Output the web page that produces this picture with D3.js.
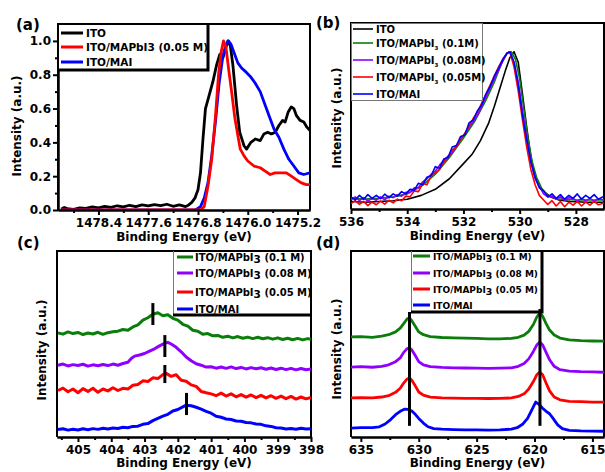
<!DOCTYPE html>
<html>
<head>
<meta charset="utf-8">
<script src="https://cdn.jsdelivr.net/npm/d3@7"></script>
<style>
  body { margin: 0; background: #fff; }
  text { font-family: "DejaVu Sans", Verdana, sans-serif; font-weight: bold; fill: #000; }
</style>
</head>
<body>
<script>
// ---------- panel (a) : normalized spectra near 1476 eV ----------
var aIto = [[1479.0,0.005],[1478.95,0.015],[1478.9,0.008],[1478.8,0.004],[1478.7,0.012],[1478.6,0.010],
  [1478.5,0.018],[1478.4,0.012],[1478.3,0.022],[1478.2,0.015],[1478.1,0.025],[1478.0,0.018],[1477.9,0.028],
  [1477.8,0.020],[1477.7,0.030],[1477.6,0.024],[1477.5,0.032],[1477.4,0.026],[1477.3,0.034],[1477.2,0.022],
  [1477.1,0.030],[1477.0,0.020],[1476.95,0.030],[1476.9,0.045],[1476.85,0.07],[1476.8,0.12],[1476.76,0.22],
  [1476.72,0.42],[1476.68,0.60],[1476.62,0.68],[1476.56,0.76],[1476.5,0.86],[1476.45,0.92],[1476.4,0.90],
  [1476.36,0.95],[1476.32,1.0],[1476.28,0.97],[1476.24,0.86],[1476.18,0.62],[1476.13,0.46],[1476.06,0.38],
  [1476.02,0.36],[1475.95,0.40],[1475.88,0.42],[1475.8,0.41],[1475.74,0.45],[1475.68,0.46],[1475.62,0.45],
  [1475.56,0.46],[1475.5,0.50],[1475.44,0.53],[1475.4,0.52],[1475.35,0.58],[1475.3,0.61],[1475.26,0.60],
  [1475.22,0.56],[1475.16,0.53],[1475.1,0.52],[1475.05,0.49],[1475.0,0.47]];
var aMapbi = [[1479.0,0],[1476.76,0],[1476.7,0.02],[1476.64,0.14],[1476.58,0.30],[1476.52,0.55],
  [1476.47,0.80],[1476.43,0.93],[1476.39,1.0],[1476.35,0.96],[1476.31,0.84],[1476.26,0.70],[1476.21,0.55],
  [1476.16,0.44],[1476.12,0.36],[1476.06,0.32],[1476.0,0.29],[1475.9,0.26],[1475.8,0.25],[1475.72,0.23],
  [1475.64,0.21],[1475.56,0.22],[1475.46,0.22],[1475.38,0.22],[1475.3,0.20],[1475.22,0.18],[1475.14,0.16],
  [1475.06,0.15],[1475.0,0.15]];
var aMai = [[1479.0,0],[1476.84,0],[1476.76,0.02],[1476.7,0.07],[1476.64,0.16],[1476.58,0.32],[1476.52,0.52],
  [1476.46,0.75],[1476.4,0.91],[1476.35,0.98],[1476.31,1.0],[1476.27,0.98],[1476.22,0.93],[1476.16,0.87],
  [1476.1,0.84],[1476.04,0.82],[1475.96,0.79],[1475.88,0.75],[1475.8,0.70],[1475.72,0.62],[1475.64,0.54],
  [1475.58,0.48],[1475.5,0.43],[1475.42,0.36],[1475.34,0.30],[1475.26,0.26],[1475.18,0.22],[1475.1,0.21],
  [1475.0,0.22]];
var aNames = ["ITO", "ITO/MAPbI3 (0.05 M)", "ITO/MAI"];
var aXMajor = [1478.4, 1477.6, 1476.8, 1476.0, 1475.2];
var aXMinor = [1478.8, 1478.0, 1477.2, 1476.4, 1475.6];
var aYMajor = [0, 0.2, 0.4, 0.6, 0.8, 1.0];
var aYMinor = [0.1, 0.3, 0.5, 0.7, 0.9];

// ---------- panel (b) : O 1s ----------
var bIto = [[536,0.01],[535.5,0.005],[535,0.01],[534.5,0.015],[534,0.025],[533.5,0.05],[533,0.09],
  [532.5,0.16],[532,0.26],[531.7,0.32],[531.4,0.41],[531.1,0.53],[530.9,0.64],[530.7,0.76],[530.5,0.88],
  [530.35,0.96],[530.2,1.0],[530.05,0.93],[529.9,0.72],[529.75,0.5],[529.6,0.3],[529.45,0.17],[529.3,0.11],
  [529.1,0.07],[528.9,0.04],[528.6,0.02],[528.2,0.01],[527.6,0.005],[527,0.005]];
var b01 = [[536,0.03],[535.5,0.025],[535,0.03],[534.5,0.04],[534,0.06],[533.5,0.11],[533,0.19],[532.5,0.30],
  [532,0.43],[531.6,0.54],[531.2,0.68],[530.9,0.80],[530.65,0.92],[530.45,0.99],[530.3,1.0],[530.15,0.95],
  [530,0.82],[529.85,0.62],[529.7,0.42],[529.55,0.27],[529.4,0.17],[529.2,0.09],[529,0.05],[528.6,0.025],
  [528,0.02],[527.5,0.02],[527,0.02]];
var b008 = [[536,0.02],[535.85,0.04],[535.7,0.015],[535.55,0.035],[535.4,0.012],[535.25,0.03],[535.1,0.018],
  [534.95,0.04],[534.8,0.02],[534.65,0.045],[534.5,0.035],[534.35,0.055],[534.2,0.045],[534.05,0.07],
  [533.9,0.07],[533.75,0.1],[533.6,0.1],[533.45,0.14],[533.3,0.16],[533.15,0.19],[533,0.21],[532.85,0.25],
  [532.7,0.28],[532.55,0.31],[532.4,0.33],[532.25,0.38],[532.1,0.42],[531.95,0.46],[531.8,0.50],[531.65,0.54],
  [531.5,0.58],[531.35,0.64],[531.2,0.70],[531.05,0.76],[530.9,0.82],[530.75,0.88],[530.6,0.94],[530.45,0.99],
  [530.35,1.0],[530.2,0.93],[530.05,0.8],[529.9,0.61],[529.75,0.43],[529.6,0.27],[529.45,0.16],[529.3,0.11],
  [529.15,0.06],[529,0.04],[528.85,0.045],[528.7,0.025],[528.55,0.04],[528.4,0.018],[528.25,0.035],[528.1,0.03],
  [527.95,0.012],[527.8,0.03],[527.65,0.015],[527.5,0.03],[527.35,0.012],[527.2,0.028],[527,0.02]];
var b005 = [[536,-0.005],[535.85,0.015],[535.7,-0.01],[535.55,0.01],[535.4,-0.018],[535.25,0.005],
  [535.1,-0.012],[534.95,0.012],[534.8,-0.008],[534.65,0.018],[534.5,0],[534.35,0.025],[534.2,0.015],
  [534.05,0.045],[533.9,0.04],[533.75,0.08],[533.6,0.075],[533.45,0.13],[533.3,0.12],[533.15,0.18],[533,0.2],
  [532.85,0.22],[532.7,0.27],[532.55,0.3],[532.4,0.35],[532.25,0.37],[532.1,0.42],[531.95,0.46],[531.8,0.51],
  [531.65,0.56],[531.5,0.6],[531.35,0.66],[531.2,0.72],[531.05,0.78],[530.9,0.84],[530.75,0.9],[530.6,0.95],
  [530.45,0.99],[530.35,1.0],[530.2,0.9],[530.05,0.74],[529.9,0.55],[529.75,0.37],[529.6,0.22],[529.45,0.12],
  [529.3,0.05],[529.15,0.02],[529,-0.01],[528.85,0.015],[528.7,-0.02],[528.55,0.01],[528.4,-0.025],
  [528.25,0.005],[528.1,-0.015],[527.95,0.01],[527.8,-0.02],[527.65,0.005],[527.5,-0.015],[527.35,0.01],
  [527.2,-0.012],[527,0]];
var bMai = [[536,0.04],[535.85,0.02],[535.7,0.05],[535.55,0.025],[535.4,0.055],[535.25,0.03],[535.1,0.05],
  [534.95,0.028],[534.8,0.058],[534.65,0.035],[534.5,0.06],[534.35,0.045],[534.2,0.075],[534.05,0.06],
  [533.9,0.09],[533.75,0.085],[533.6,0.13],[533.45,0.12],[533.3,0.17],[533.15,0.18],[533,0.24],[532.85,0.23],
  [532.7,0.29],[532.55,0.3],[532.4,0.37],[532.25,0.38],[532.1,0.44],[531.95,0.45],[531.8,0.53],[531.65,0.55],
  [531.5,0.61],[531.35,0.65],[531.2,0.72],[531.05,0.77],[530.9,0.84],[530.75,0.89],[530.6,0.95],[530.45,0.99],
  [530.35,1.0],[530.2,0.93],[530.05,0.78],[529.9,0.58],[529.75,0.42],[529.6,0.27],[529.45,0.17],[529.3,0.1],
  [529.15,0.08],[529,0.04],[528.85,0.06],[528.7,0.03],[528.55,0.055],[528.4,0.025],[528.25,0.05],[528.1,0.03],
  [527.95,0.06],[527.8,0.025],[527.65,0.05],[527.5,0.03],[527.35,0.055],[527.2,0.025],[527,0.045]];
var bXMajor = [536, 534, 532, 530, 528];
var bXMinor = [535, 533, 531, 529];

// ---------- panel (c) : N 1s, stacked ----------
var c01 = [[405.6,.560],[405.45,.553],[405.3,.565],[405.15,.556],[405.0,.562],[404.85,.551],[404.7,.559],
  [404.55,.554],[404.4,.563],[404.25,.552],[404.1,.561],[403.95,.566],[403.8,.569],[403.65,.578],[403.5,.574],
  [403.35,.592],[403.2,.603],[403.05,.628],[402.9,.641],[402.75,.66],[402.6,.668],[402.45,.652],[402.3,.657],
  [402.15,.638],[402.0,.628],[401.85,.606],[401.7,.596],[401.55,.574],[401.4,.569],[401.25,.552],[401.1,.556],
  [400.95,.544],[400.8,.546],[400.65,.536],[400.5,.542],[400.35,.533],[400.2,.54],[400.05,.531],[399.9,.537],
  [399.75,.529],[399.6,.536],[399.45,.528],[399.3,.534],[399.15,.526],[399.0,.533],[398.85,.524],[398.7,.531],
  [398.55,.523],[398.4,.53],[398.25,.522],[398.1,.529],[398.0,.526]];
var c008 = [[405.6,.386],[405.45,.392],[405.3,.382],[405.15,.389],[405.0,.384],[404.85,.391],[404.7,.381],
  [404.55,.388],[404.4,.383],[404.25,.39],[404.1,.384],[403.95,.392],[403.8,.386],[403.65,.395],[403.5,.402],
  [403.4,.422],[403.3,.435],[403.15,.441],[403.0,.449],[402.85,.462],[402.7,.474],[402.55,.49],[402.4,.503],
  [402.3,.509],[402.2,.5],[402.05,.482],[401.9,.458],[401.75,.43],[401.6,.41],[401.45,.394],[401.3,.386],
  [401.15,.376],[401.0,.378],[400.85,.37],[400.7,.376],[400.55,.369],[400.4,.377],[400.25,.368],[400.1,.374],
  [399.95,.366],[399.8,.373],[399.65,.367],[399.5,.372],[399.35,.364],[399.2,.371],[399.05,.363],[398.9,.37],
  [398.75,.362],[398.6,.369],[398.45,.361],[398.3,.368],[398.15,.362],[398.0,.366]];
var c005 = [[405.6,.25],[405.45,.263],[405.3,.243],[405.15,.258],[405.0,.238],[404.85,.26],[404.7,.245],
  [404.55,.262],[404.4,.24],[404.25,.258],[404.1,.248],[403.95,.265],[403.8,.25],[403.65,.262],[403.5,.258],
  [403.35,.278],[403.2,.282],[403.05,.302],[402.9,.298],[402.75,.318],[402.6,.314],[402.45,.335],[402.35,.342],
  [402.2,.326],[402.05,.335],[401.9,.305],[401.75,.3],[401.6,.28],[401.45,.272],[401.3,.245],[401.15,.238],
  [401.0,.232],[400.85,.222],[400.7,.236],[400.55,.22],[400.4,.232],[400.25,.216],[400.1,.228],[399.95,.214],
  [399.8,.226],[399.65,.212],[399.5,.224],[399.35,.21],[399.2,.222],[399.05,.208],[398.9,.22],[398.75,.206],
  [398.6,.218],[398.45,.204],[398.3,.215],[398.15,.205],[398.0,.212]];
var cMai = [[405.6,.040],[405.45,.044],[405.3,.037],[405.15,.042],[405.0,.038],[404.85,.044],[404.7,.039],
  [404.55,.045],[404.4,.041],[404.25,.047],[404.1,.043],[403.95,.048],[403.8,.046],[403.65,.052],[403.5,.05],
  [403.35,.057],[403.2,.058],[403.05,.068],[402.9,.072],[402.75,.088],[402.6,.1],[402.45,.112],[402.3,.122],
  [402.15,.14],[402.0,.148],[401.85,.162],[401.75,.171],[401.6,.168],[401.45,.16],[401.3,.15],[401.15,.138],
  [401.0,.128],[400.85,.112],[400.7,.106],[400.55,.097],[400.4,.094],[400.25,.086],[400.1,.085],[399.95,.078],
  [399.8,.076],[399.65,.07],[399.5,.068],[399.35,.06],[399.2,.057],[399.05,.05],[398.9,.048],[398.75,.043],
  [398.6,.046],[398.45,.042],[398.3,.047],[398.15,.043],[398.0,.045]];
var cMarkE = [402.75, 402.39, 402.39, 401.74];
var cMarkLo = [0.602, 0.43, 0.29, 0.118];
var cMarkHi = [0.72, 0.548, 0.387, 0.237];
var cXMajor = [405, 404, 403, 402, 401, 400, 399, 398];
var cXMinor = [405.5, 404.5, 403.5, 402.5, 401.5, 400.5, 399.5, 398.5];

// ---------- panel (d) : I 3d, stacked ----------
var d01 = [[635.85,0.538],[635,0.54],[634,0.536],[633.2,0.542],[632.6,0.55],[632,0.565],[631.6,0.585],
  [631.3,0.61],[631,0.635],[630.8,0.64],[630.6,0.625],[630.3,0.595],[630,0.565],[629.6,0.55],[629,0.54],
  [628,0.535],[627,0.533],[626,0.532],[625,0.53],[624,0.528],[623,0.528],[622,0.53],[621.4,0.536],[620.9,0.548],
  [620.5,0.568],[620.1,0.605],[619.8,0.645],[619.55,0.667],[619.3,0.65],[619,0.61],[618.7,0.575],[618.3,0.548],
  [617.8,0.532],[617,0.522],[616,0.518],[615,0.516],[614,0.515]];
var d008 = [[635.85,0.376],[635,0.378],[634,0.375],[633.2,0.38],[632.6,0.388],[632,0.405],[631.6,0.425],
  [631.3,0.455],[631,0.475],[630.8,0.478],[630.6,0.468],[630.3,0.438],[630,0.405],[629.6,0.388],[629,0.378],
  [628,0.374],[627,0.372],[626,0.371],[625,0.37],[624,0.369],[623,0.37],[622,0.372],[621.4,0.38],[620.9,0.395],
  [620.5,0.42],[620.1,0.46],[619.8,0.495],[619.55,0.511],[619.3,0.495],[619,0.455],[618.7,0.415],[618.3,0.38],
  [617.8,0.362],[617,0.354],[616,0.351],[615,0.35],[614,0.348]];
var d005 = [[635.85,0.21],[635,0.212],[634,0.21],[633.2,0.215],[632.6,0.222],[632,0.24],[631.6,0.262],
  [631.3,0.29],[631,0.312],[630.8,0.317],[630.6,0.305],[630.3,0.275],[630,0.242],[629.6,0.225],[629,0.214],
  [628,0.21],[627,0.209],[626,0.208],[625,0.208],[624,0.207],[623,0.208],[622,0.21],[621.4,0.218],[620.9,0.232],
  [620.5,0.258],[620.1,0.298],[619.8,0.335],[619.55,0.349],[619.3,0.335],[619,0.29],[618.7,0.248],[618.3,0.215],
  [617.8,0.2],[617,0.192],[616,0.19],[615,0.188],[614,0.187]];
var dMai = [[635.85,0.048],[635,0.05],[634,0.05],[633.4,0.055],[632.9,0.07],[632.4,0.095],[632,0.12],
  [631.6,0.138],[631.2,0.15],[630.9,0.148],[630.6,0.14],[630.3,0.122],[630,0.1],[629.6,0.075],[629.2,0.055],
  [628.7,0.045],[628,0.042],[627,0.04],[626,0.038],[625,0.038],[624,0.037],[623,0.038],[622,0.042],[621.5,0.05],
  [621,0.07],[620.6,0.1],[620.2,0.15],[619.9,0.188],[619.6,0.175],[619.3,0.155],[619,0.138],[618.7,0.125],
  [618.4,0.1],[618,0.065],[617.6,0.045],[617,0.036],[616,0.033],[615,0.032],[614,0.031]];
var dMarkE = [630.8, 619.53];
var dMarkLo = [0.06, 0.06];
var dMarkHi = [0.672, 0.688];
var dXMajor = [635, 630, 625, 620, 615];
var dXMinor = [632.5, 627.5, 622.5, 617.5];

var stackNames = [["ITO/MAPbI", "3", " (0.1 M)"], ["ITO/MAPbI", "3", " (0.08 M)"],
                  ["ITO/MAPbI", "3", " (0.05 M)"], ["ITO/MAI", "", ""]];
var bNames = [["ITO", "", ""], ["ITO/MAPbI", "3", " (0.1M)"], ["ITO/MAPbI", "3", " (0.08M)"],
              ["ITO/MAPbI", "3", " (0.05M)"], ["ITO/MAI", "", ""]];

var BLACK = "#000", RED = "#ff0000", BLUE = "#0000ff", GREEN = "#0a7d0a", PURPLE = "#8f00ff";

var svg = d3.select("body").append("svg")
    .attr("width", 605)
    .attr("height", 472);
svg.append("rect").attr("width", 605).attr("height", 472).attr("fill", "#fff");

// scales
var xa = d3.scaleLinear().domain([1479.05, 1475.0]).range([58, 310]);
var ya = d3.scaleLinear().domain([0, 1.1]).range([210, 24]);
var xb = d3.scaleLinear().domain([536, 527]).range([351, 604]);
var yb = d3.scaleLinear().domain([-0.04, 1.19]).range([209, 23]);
var xc = d3.scaleLinear().domain([405.63, 398]).range([57, 311]);
var yc = d3.scaleLinear().domain([0, 1]).range([437, 251]);
var xd = d3.scaleLinear().domain([635.85, 614.0]).range([351, 604]);
var yd = d3.scaleLinear().domain([0, 1]).range([437, 251]);

function clip(id, xs, ys) {
  svg.append("clipPath").attr("id", id).append("rect")
    .attr("x", xs.range()[0]).attr("y", ys.range()[1])
    .attr("width", xs.range()[1] - xs.range()[0])
    .attr("height", ys.range()[0] - ys.range()[1]);
}
clip("ca", xa, ya); clip("cb", xb, yb); clip("cc", xc, yc); clip("cd", xd, yd);

function curve(data, xs, ys, color, w, cl) {
  var line = d3.line().x(function(d) { return xs(d[0]); }).y(function(d) { return ys(d[1]); });
  svg.append("path").datum(data)
    .attr("d", line)
    .attr("fill", "none")
    .attr("stroke", color)
    .attr("stroke-width", w)
    .attr("stroke-linejoin", "round")
    .attr("clip-path", "url(#" + cl + ")");
}

function styleAxis(g) {
  g.selectAll("path, line").attr("stroke", "#000").attr("stroke-width", 2);
  g.selectAll("text").attr("font-size", "12px").attr("fill", "#000")
    .attr("font-family", "DejaVu Sans, sans-serif").attr("font-weight", "bold");
}

function bottomAxis(xs, y, major, minor, fmt) {
  var g1 = svg.append("g").attr("transform", "translate(0," + y + ")")
    .call(d3.axisBottom(xs).tickValues(minor).tickSize(3).tickFormat("").tickSizeOuter(0));
  styleAxis(g1);
  var g2 = svg.append("g").attr("transform", "translate(0," + y + ")")
    .call(d3.axisBottom(xs).tickValues(major).tickSize(5).tickPadding(3).tickFormat(fmt).tickSizeOuter(0));
  styleAxis(g2);
}

function frame(xs, ys) {
  var l = xs.range()[0], r = xs.range()[1], t = ys.range()[1], b = ys.range()[0];
  svg.append("path").attr("d", "M" + l + "," + b + "V" + t + "H" + r + "V" + b)
    .attr("fill", "none").attr("stroke", "#000").attr("stroke-width", 2);
}

function xTitle(xs, y) {
  svg.append("text").attr("x", (xs.range()[0] + xs.range()[1]) / 2).attr("y", y)
    .attr("text-anchor", "middle").attr("font-size", "12px").text("Binding Energy (eV)");
}
function yTitle(x, y) {
  svg.append("text").attr("transform", "translate(" + x + "," + y + ") rotate(-90)")
    .attr("text-anchor", "middle").attr("font-size", "12px").text("Intensity (a.u.)");
}
function tag(x, y, s) {
  svg.append("text").attr("x", x).attr("y", y).attr("font-size", "15px").text(s);
}

function legendText(x, y, parts, size, subSmall) {
  var t = svg.append("text").attr("x", x).attr("y", y).attr("font-size", size + "px");
  t.append("tspan").text(parts[0]);
  if (parts[1]) {
    t.append("tspan").attr("dy", subSmall ? 3 : 2)
      .attr("font-size", (subSmall ? size * 0.55 : size * 1.05) + "px").text(parts[1]);
    t.append("tspan").attr("dy", subSmall ? -3 : -2).text(parts[2]);
  }
}

// ================= panel (a) =================
frame(xa, ya);
curve(aIto, xa, ya, BLACK, 2.8, "ca");
curve(aMai, xa, ya, BLUE, 2.8, "ca");
curve(aMapbi, xa, ya, RED, 2.8, "ca");
bottomAxis(xa, 210, aXMajor, aXMinor, d3.format(".1f"));
var gya = svg.append("g").attr("transform", "translate(58,0)")
  .call(d3.axisLeft(ya).tickValues(aYMinor).tickSize(3).tickFormat("").tickSizeOuter(0));
styleAxis(gya);
var gya2 = svg.append("g").attr("transform", "translate(58,0)")
  .call(d3.axisLeft(ya).tickValues(aYMajor).tickSize(5).tickPadding(2).tickFormat(d3.format(".1f")).tickSizeOuter(0));
styleAxis(gya2);
// legend (a)
svg.append("rect").attr("x", 59).attr("y", 25).attr("width", 148).attr("height", 45).attr("fill", "#fff");
svg.append("path").attr("d", "M58,70H208V24").attr("fill", "none").attr("stroke", "#000").attr("stroke-width", 3);
var aCols = [BLACK, RED, BLUE], aRows = [33, 47, 62];
aNames.forEach(function(n, i) {
  svg.append("line").attr("x1", 61).attr("x2", 83).attr("y1", aRows[i]).attr("y2", aRows[i])
    .attr("stroke", aCols[i]).attr("stroke-width", 3);
  svg.append("text").attr("x", 86).attr("y", aRows[i] + 4).attr("font-size", "10.5px").text(n);
});
xTitle(xa, 241);
yTitle(21, 126);
tag(16, 30, "(a)");

// ================= panel (b) =================
frame(xb, yb);
curve(bIto, xb, yb, BLACK, 1.6, "cb");
curve(b01, xb, yb, GREEN, 1.6, "cb");
curve(b008, xb, yb, PURPLE, 1.6, "cb");
curve(b005, xb, yb, RED, 1.6, "cb");
curve(bMai, xb, yb, BLUE, 1.6, "cb");
bottomAxis(xb, 209, bXMajor, bXMinor, d3.format("d"));
svg.append("rect").attr("x", 351.5).attr("y", 23.5).attr("width", 131).attr("height", 77)
  .attr("fill", "#fff").attr("stroke", "#777").attr("stroke-width", 1);
var bCols = [BLACK, GREEN, PURPLE, RED, BLUE], bRows = [29, 43, 60, 77, 94];
bNames.forEach(function(n, i) {
  svg.append("line").attr("x1", 353).attr("x2", 373).attr("y1", bRows[i]).attr("y2", bRows[i])
    .attr("stroke", bCols[i]).attr("stroke-width", 1.6);
  legendText(376, bRows[i] + 4, n, 10, true);
});
xTitle(xb, 240);
yTitle(341, 118);
tag(316, 28, "(b)");

// ================= panel (c) =================
frame(xc, yc);
curve(c01, xc, yc, GREEN, 3, "cc");
curve(c008, xc, yc, PURPLE, 3, "cc");
curve(c005, xc, yc, RED, 3, "cc");
curve(cMai, xc, yc, BLUE, 3, "cc");
cMarkE.forEach(function(e, i) {
  svg.append("line").attr("x1", xc(e)).attr("x2", xc(e)).attr("y1", yc(cMarkLo[i])).attr("y2", yc(cMarkHi[i]))
    .attr("stroke", "#000").attr("stroke-width", 3);
});
bottomAxis(xc, 437, cXMajor, cXMinor, d3.format("d"));
svg.append("rect").attr("x", 173).attr("y", 252).attr("width", 137).attr("height", 62).attr("fill", "#fff");
svg.append("line").attr("x1", 173.5).attr("x2", 173.5).attr("y1", 251).attr("y2", 315).attr("stroke", "#777");
svg.append("line").attr("x1", 173).attr("x2", 311).attr("y1", 315).attr("y2", 315).attr("stroke", "#000").attr("stroke-width", 3);
var sCols = [GREEN, PURPLE, RED, BLUE], cRows = [257, 273, 292, 309];
stackNames.forEach(function(n, i) {
  svg.append("line").attr("x1", 177).attr("x2", 193).attr("y1", cRows[i]).attr("y2", cRows[i])
    .attr("stroke", sCols[i]).attr("stroke-width", 3);
  legendText(195, cRows[i] + 4, n, 10, false);
});
xTitle(xc, 467);
yTitle(46, 350);
tag(17, 248, "(c)");

// ================= panel (d) =================
frame(xd, yd);
curve(d01, xd, yd, GREEN, 2.8, "cd");
curve(d008, xd, yd, PURPLE, 2.8, "cd");
curve(d005, xd, yd, RED, 2.8, "cd");
curve(dMai, xd, yd, BLUE, 2.8, "cd");
bottomAxis(xd, 437, dXMajor, dXMinor, d3.format("d"));
svg.append("rect").attr("x", 411).attr("y", 252).attr("width", 131).attr("height", 59).attr("fill", "#fff");
svg.append("line").attr("x1", 411.5).attr("x2", 411.5).attr("y1", 251).attr("y2", 312).attr("stroke", "#777");
svg.append("path").attr("d", "M411,312H542V251").attr("fill", "none").attr("stroke", "#000").attr("stroke-width", 3);
dMarkE.forEach(function(e, i) {
  svg.append("line").attr("x1", xd(e)).attr("x2", xd(e)).attr("y1", yd(dMarkLo[i])).attr("y2", yd(dMarkHi[i]))
    .attr("stroke", "#000").attr("stroke-width", 3);
});
var dRows = [256, 273, 289, 305];
stackNames.forEach(function(n, i) {
  svg.append("line").attr("x1", 413).attr("x2", 430).attr("y1", dRows[i]).attr("y2", dRows[i])
    .attr("stroke", sCols[i]).attr("stroke-width", 3);
  legendText(433, dRows[i] + 3.5, n, 9, false);
});
xTitle(xd, 467);
yTitle(341, 349);
tag(316, 248, "(d)");
</script>
</body>
</html>
